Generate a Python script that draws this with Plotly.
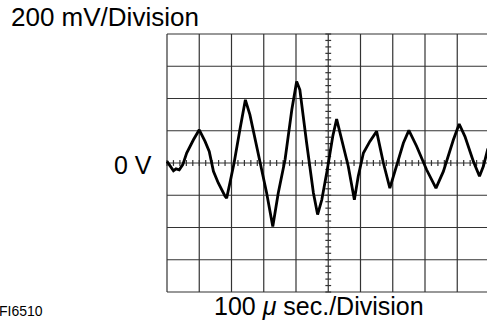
import plotly.graph_objects as go

# Oscilloscope trace, in divisions (x: 100 us/div, y: 200 mV/div)
time_div = [0.0, 0.09, 0.2, 0.28, 0.38, 0.49, 0.61, 0.82, 1.0, 1.18, 1.31, 1.44, 1.59, 1.8, 1.85,
            1.95, 2.08, 2.26, 2.43, 2.57, 2.88, 3.09, 3.28, 3.45, 3.66, 3.87, 4.02, 4.12, 4.33,
            4.54, 4.67, 4.8, 4.97, 5.14, 5.26, 5.36, 5.62, 5.81, 5.93, 6.09, 6.29, 6.5, 6.71,
            6.91, 7.12, 7.33, 7.5, 7.74, 8.05, 8.34, 8.57, 8.88, 9.06, 9.24, 9.5, 9.69, 9.81, 9.95]
volt_div = [0.05, -0.1, -0.24, -0.18, -0.21, -0.05, 0.31, 0.72, 1.03, 0.67, 0.36, -0.26, -0.62,
            -1.03, -1.09, -0.62, 0.0, 1.03, 1.96, 1.5, 0.0, -0.93, -1.97, -0.93, 0.1, 1.65, 2.53,
            2.27, 0.62, -0.93, -1.6, -1.14, -0.21, 0.83, 1.36, 0.98, -0.1, -1.14, -0.41, 0.31,
            0.67, 0.98, 0.0, -0.78, -0.1, 0.62, 1.01, 0.52, -0.21, -0.78, -0.26, 0.72, 1.21,
            0.82, 0.05, -0.41, -0.1, 0.45]

x_divisions = list(range(0, 11))
y_divisions = list(range(-4, 5))
volt_label = "200 mV/Division"
time_label = "100 <i>μ</i> sec./Division"
zero_label = "0 V"
fig_id = "FI6510"

W, H = 487, 323
D = 32.25          # pixels per division
X0PX = 167         # pixel of x=0
Y0PX = 163.0       # pixel of y=0
L, R, T, B = 160, 0, 28, 25
PW, PH = W - L - R, H - T - B

def px2x(px):
    return (px - X0PX) / D

def py2y(py):
    return (Y0PX - py) / D

def px2paper(px):
    return (px - L) / PW

def py2paper(py):
    return (H - B - py) / PH

xr = [px2x(L), px2x(W - R)]
yr = [py2y(H - B), py2y(T)]

grid_color = "#333333"
shapes = []
for xv in x_divisions:
    shapes.append(dict(type="line", xref="x", yref="y", x0=xv, x1=xv, y0=-4, y1=4,
                       line=dict(color=grid_color, width=1.2), layer="below"))
for yv in y_divisions:
    shapes.append(dict(type="line", xref="x", yref="y", x0=0, x1=10, y0=yv, y1=yv,
                       line=dict(color=grid_color, width=1.2), layer="below"))

# minor tick marks on centre lines
tk = 0.09
tx, ty = [], []
for i in range(0, 51):
    xv = i * 0.2
    tx += [xv, xv, None]
    ty += [-tk, tk, None]
for i in range(-20, 21):
    yv = i * 0.2
    tx += [5 - tk, 5 + tk, None]
    ty += [yv, yv, None]

fig = go.Figure()
fig.add_trace(go.Scatter(x=tx, y=ty, mode="lines", line=dict(color=grid_color, width=1.2),
                         hoverinfo="skip", showlegend=False))
fig.add_trace(go.Scatter(x=time_div, y=volt_div, mode="lines",
                         line=dict(color="black", width=2.8), showlegend=False))

font = dict(family="Liberation Sans, Arial, sans-serif", color="black")
ann = [
    dict(text=volt_label, x=px2paper(9), y=py2paper(17), xanchor="left", yanchor="middle",
         font=dict(size=26, **font)),
    dict(text=zero_label, x=px2paper(154), y=py2paper(165), xanchor="right", yanchor="middle",
         font=dict(size=25, **font)),
    dict(text=time_label, x=px2paper(319), y=py2paper(306), xanchor="center", yanchor="middle",
         font=dict(size=25, **font)),
    dict(text=fig_id, x=px2paper(-3), y=py2paper(311), xanchor="left", yanchor="middle",
         font=dict(size=14, **font)),
]
for a in ann:
    a.update(xref="paper", yref="paper", showarrow=False)

fig.update_layout(
    width=W, height=H,
    margin=dict(l=L, r=R, t=T, b=B, pad=0),
    paper_bgcolor="white", plot_bgcolor="white",
    xaxis=dict(range=xr, visible=False, showgrid=False, zeroline=False, fixedrange=True),
    yaxis=dict(range=yr, visible=False, showgrid=False, zeroline=False, fixedrange=True),
    shapes=shapes, annotations=ann, showlegend=False,
)
fig.write_html("out.html", config={"displayModeBar": False},
               post_script="document.body.style.margin='0';document.body.style.overflow='hidden';")
